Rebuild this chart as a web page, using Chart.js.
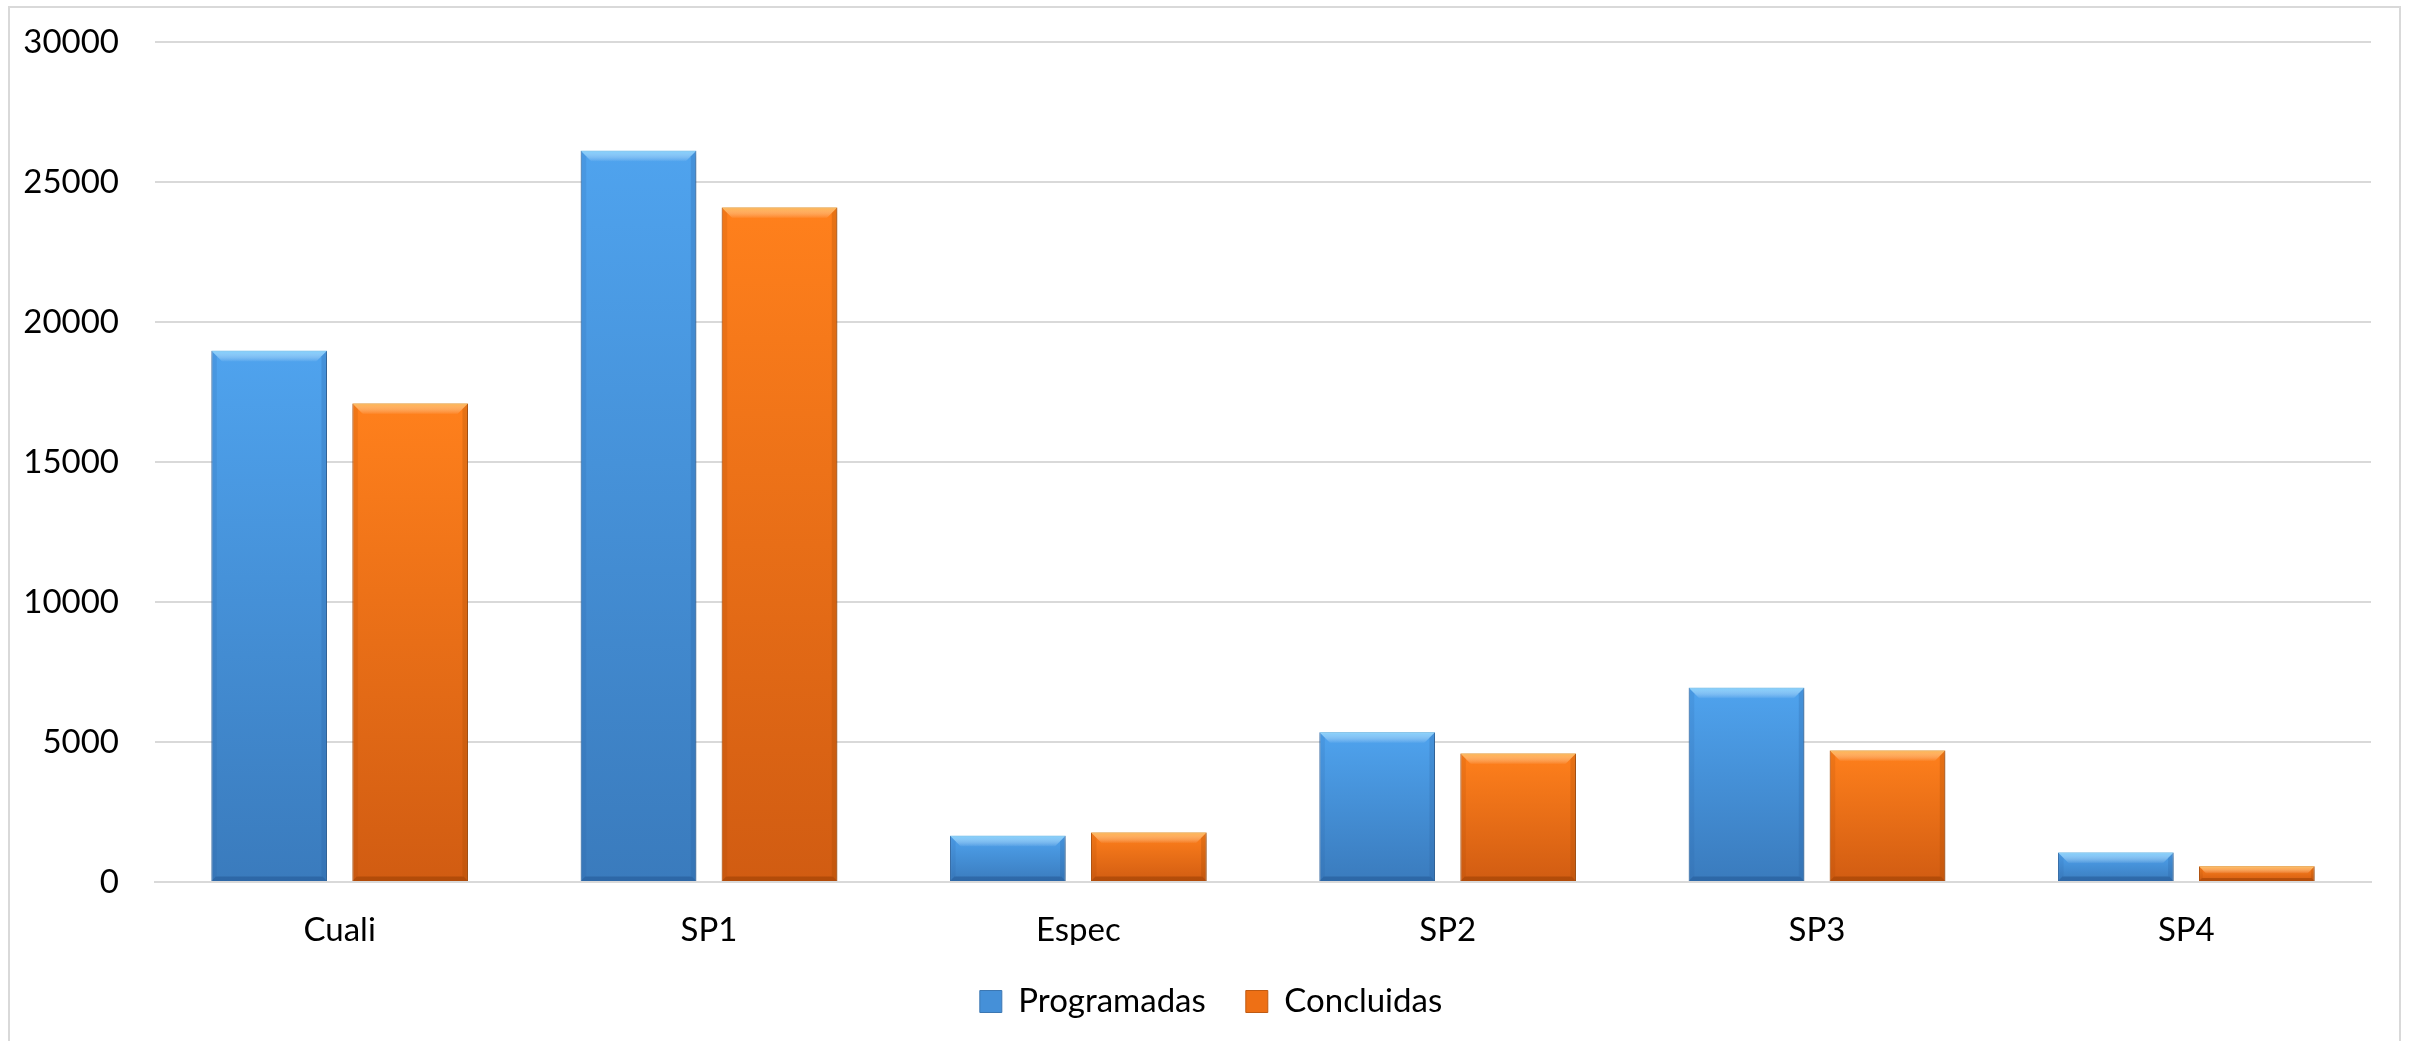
<!DOCTYPE html>
<html>
<head>
<meta charset="utf-8">
<script src="https://cdn.jsdelivr.net/npm/chart.js@4/dist/chart.umd.min.js"></script>
<style>
  html, body { margin: 0; padding: 0; background: #fff; }
  #wrap { position: relative; width: 2410px; height: 1041px; }
  canvas { display: block; }
</style>
</head>
<body>
<div id="wrap"><canvas id="c" width="2410" height="1041"></canvas></div>
<script>
const categories = ['Cuali', 'SP1', 'Espec', 'SP2', 'SP3', 'SP4'];
const programadas = [18970, 26120, 1650, 5350, 6940, 1050];
const concluidas = [17090, 24090, 1770, 4590, 4700, 560];
const yTickValues = [0, 5000, 10000, 15000, 20000, 25000, 30000];
const seriesNames = ['Programadas', 'Concluidas'];

const FONT = 'Lato, "Open Sans", "DejaVu Sans", sans-serif';
const FS = 33;

function barGradient(top, bottom, fallback) {
  return function (ctx) {
    const chart = ctx.chart;
    if (ctx.type !== 'data' || !chart.chartArea) return fallback;
    const ys = chart.scales.y;
    const yTop = ys.getPixelForValue(ctx.raw);
    const yBase = ys.getPixelForValue(0);
    if (!isFinite(yTop) || !isFinite(yBase) || yBase - yTop < 1) return fallback;
    const g = chart.ctx.createLinearGradient(0, yTop, 0, yBase);
    g.addColorStop(0, top);
    g.addColorStop(1, bottom);
    return g;
  };
}

const bevelColors = [
  { light: 'rgba(140,215,255,0.85)', dark: 'rgba(30,80,140,0.45)', side: 'rgba(40,95,160,0.25)' },
  { light: 'rgba(255,190,90,0.85)', dark: 'rgba(140,55,0,0.45)', side: 'rgba(160,70,0,0.25)' }
];

const framePlugin = {
  id: 'frame',
  beforeDraw(chart) {
    const c = chart.ctx;
    c.save();
    c.fillStyle = '#ffffff';
    c.fillRect(0, 0, chart.width, chart.height);
    c.strokeStyle = '#D9D9D9';
    c.lineWidth = 2;
    c.strokeRect(9, 7, 2391, 1100);
    c.restore();
  }
};

const legendShift = {
  id: 'legendShift',
  afterLayout(chart) {
    if (chart.legend) { chart.legend.left += 14; chart.legend.right += 14; }
  }
};

const shadowPlugin = {
  id: 'barShadow',
  beforeDatasetDraw(chart) {
    const c = chart.ctx;
    c.save();
    c.shadowColor = 'rgba(0,0,0,0.28)';
    c.shadowBlur = 7;
    c.shadowOffsetX = 2;
    c.shadowOffsetY = 2;
  },
  afterDatasetDraw(chart) {
    chart.ctx.restore();
  }
};

const bevelPlugin = {
  id: 'bevel',
  afterDatasetsDraw(chart) {
    const c = chart.ctx;
    chart.data.datasets.forEach((ds, di) => {
      const meta = chart.getDatasetMeta(di);
      const col = bevelColors[di];
      meta.data.forEach(el => {
        const { x, y, base, width } = el.getProps(['x', 'y', 'base', 'width'], true);
        const l = x - width / 2, r = x + width / 2;
        const h = base - y;
        const b = Math.min(11, h / 2);
        c.save();
        const gt = c.createLinearGradient(0, y, 0, y + b);
        gt.addColorStop(0, col.light);
        gt.addColorStop(1, 'rgba(255,255,255,0)');
        c.fillStyle = gt;
        c.beginPath();
        c.moveTo(l, y); c.lineTo(r, y); c.lineTo(r - b, y + b); c.lineTo(l + b, y + b); c.closePath();
        c.fill();
        c.fillStyle = col.side;
        c.beginPath();
        c.moveTo(r, y); c.lineTo(r, base); c.lineTo(r - b * 0.5, base - b * 0.5); c.lineTo(r - b * 0.5, y + b * 0.5); c.closePath();
        c.fill();
        c.globalAlpha = 0.6;
        c.beginPath();
        c.moveTo(l, y); c.lineTo(l, base); c.lineTo(l + b * 0.5, base - b * 0.5); c.lineTo(l + b * 0.5, y + b * 0.5); c.closePath();
        c.fill();
        c.globalAlpha = 1;
        c.fillStyle = col.dark;
        c.beginPath();
        c.moveTo(l, base); c.lineTo(r, base); c.lineTo(r - b * 0.4, base - b * 0.4); c.lineTo(l + b * 0.4, base - b * 0.4); c.closePath();
        c.fill();
        c.restore();
      });
    });
  }
};

new Chart(document.getElementById('c'), {
  type: 'bar',
  data: {
    labels: categories,
    datasets: [
      {
        label: seriesNames[0],
        data: programadas,
        backgroundColor: barGradient('#4FA3EE', '#3A7BBD', '#4590D8'),
        borderColor: '#3C77B2',
        borderWidth: 1,
        categoryPercentage: 0.7635,
        barPercentage: 0.82
      },
      {
        label: seriesNames[1],
        data: concluidas,
        backgroundColor: barGradient('#FF801C', '#D15C12', '#EE7015'),
        borderColor: '#BF5A12',
        borderWidth: 1,
        categoryPercentage: 0.7635,
        barPercentage: 0.82
      }
    ]
  },
  options: {
    responsive: false,
    animation: false,
    devicePixelRatio: 1,
    layout: { autoPadding: false, padding: { top: 42, left: 23, right: 39, bottom: 13 } },
    scales: {
      x: {
        grid: { display: false, drawTicks: false },
        border: { display: true, color: '#D9D9D9', width: 2 },
        ticks: { color: '#000', font: { family: FONT, size: FS }, padding: 29 },
        afterFit(scale) { scale.height = 63; scale.paddingLeft = 0; scale.paddingRight = 0; }
      },
      y: {
        min: 0,
        max: 30000,
        afterBuildTicks(scale) { scale.ticks = yTickValues.map(v => ({ value: v })); },
        afterFit(scale) { scale.width = 132; scale.paddingTop = 0; scale.paddingBottom = 0; },
        grid: { color: '#D9D9D9', lineWidth: 2, drawTicks: false },
        border: { display: false },
        ticks: {
          color: '#000',
          font: { family: FONT, size: FS },
          padding: 36,
          callback: v => String(v)
        }
      }
    },
    plugins: {
      legend: {
        position: 'bottom',
        labels: {
          color: '#000',
          font: { family: FONT, size: FS },
          boxWidth: 22,
          boxHeight: 22,
          padding: 40,
          generateLabels(chart) {
            const fills = ['#4590D8', '#EE7015'];
            const strokes = ['#3C77B2', '#BF5A12'];
            return chart.data.datasets.map((ds, i) => ({
              text: ds.label,
              fillStyle: fills[i],
              strokeStyle: strokes[i],
              lineWidth: 1,
              hidden: false,
              datasetIndex: i,
              fontColor: '#000'
            }));
          }
        }
      },
      tooltip: { enabled: false }
    }
  },
  plugins: [framePlugin, legendShift, shadowPlugin, bevelPlugin]
});
</script>
</body>
</html>
